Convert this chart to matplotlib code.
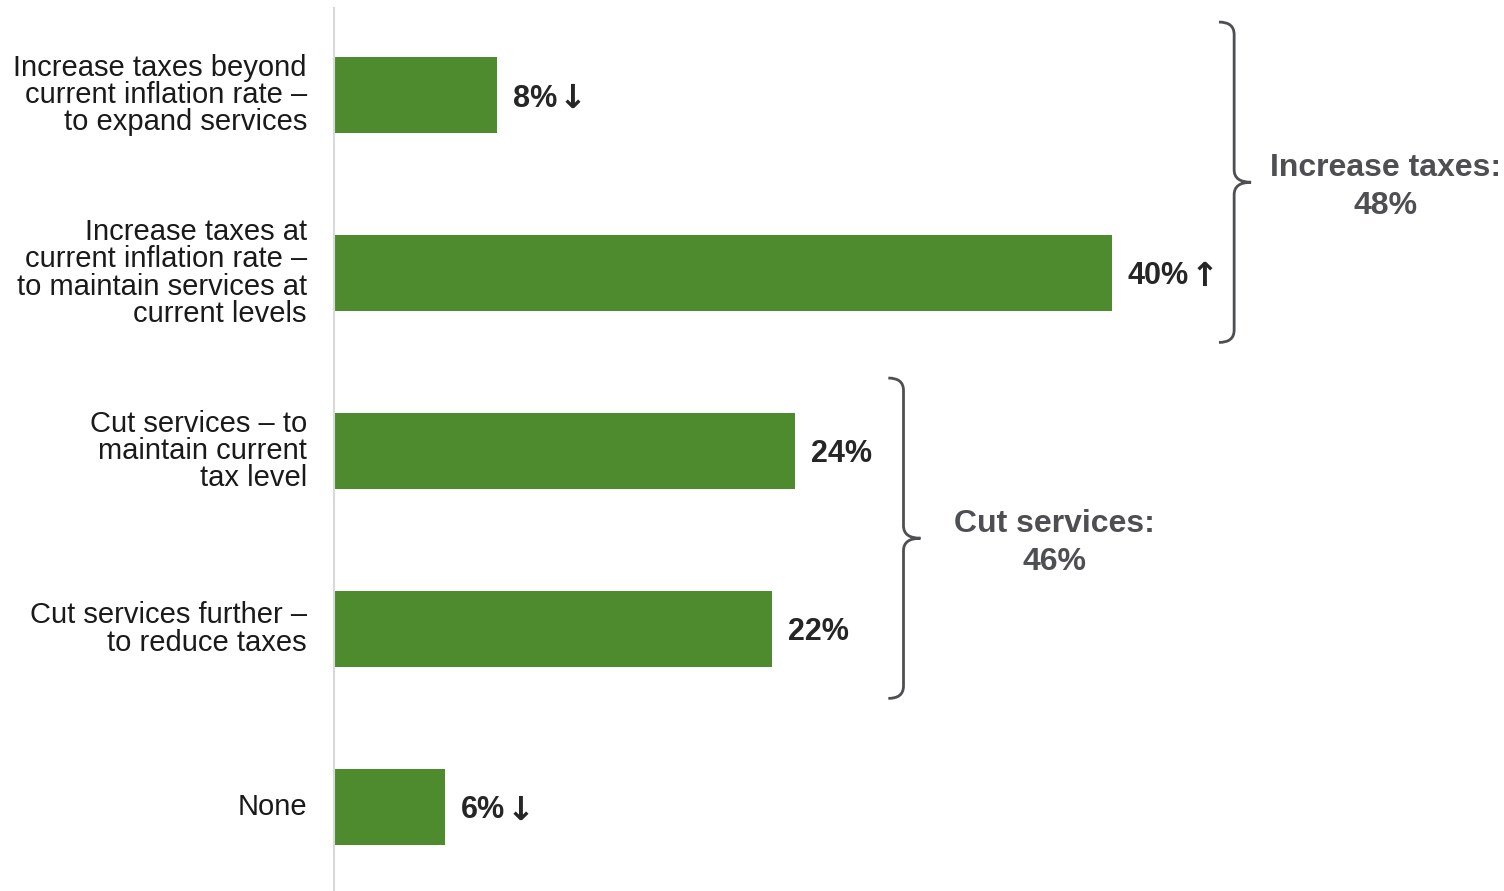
"""
Council tax preference chart: horizontal bars with group braces
"""
import matplotlib
matplotlib.use('Agg')
import matplotlib.pyplot as plt
from matplotlib.path import Path
from matplotlib.patches import PathPatch

plt.rcParams['font.family'] = ['Liberation Sans', 'DejaVu Sans']

categories = [
    'Increase taxes beyond\ncurrent inflation rate –\nto expand services',
    'Increase taxes at\ncurrent inflation rate –\nto maintain services at\ncurrent levels',
    'Cut services – to\nmaintain current\ntax level',
    'Cut services further –\nto reduce taxes',
    'None',
]
values = [8.4, 40.0, 23.7, 22.5, 5.7]
value_labels = ['8%', '40%', '24%', '22%', '6%']
arrows = ['↓', '↑', '', '', '↓']

group_names = ['Increase taxes:', 'Cut services:']
group_members = [[0, 1], [2, 3]]
group_labels = ['48%', '46%']

GREEN = '#4e8b2e'
GREY = '#4d4f53'
DARK = '#262626'

fig = plt.figure(figsize=(15.04, 8.91), dpi=100, facecolor='white')
ax = fig.add_axes([334 / 1504, 0, 1 - 334 / 1504, 1 - 8 / 891])

ypos = list(range(len(categories)))
ax.barh(ypos, values, height=0.427, color=GREEN, zorder=2)

ax.set_xlim(0, (1504 - 334) / 19.45)
ax.set_ylim(4.472, -0.489)

# eje
for s in ['top', 'right', 'bottom']:
    ax.spines[s].set_visible(False)
ax.spines['left'].set_color('#d9d9d9')
ax.spines['left'].set_linewidth(1.5)
ax.set_xticks([])
ax.set_yticks(ypos)
ax.set_yticklabels(categories, fontsize=21, color='#1a1a1a', linespacing=0.975)
ax.tick_params(axis='y', length=0, pad=19.5)
for tl in ax.get_yticklabels():
    tl.set_y(tl.get_position()[1])
    tl.set_verticalalignment('center')

# etiquetas de valor
for y, v, lab, arr in zip(ypos, values, value_labels, arrows):
    t = ax.annotate(lab, xy=(v, y), xytext=(11.5, -2.5), textcoords='offset points',
                    ha='left', va='center', fontsize=22, fontweight='bold', color=DARK)
    if arr:
        ax.annotate(arr, xy=(1, 0.5), xycoords=t, xytext=(1, 0),
                    textcoords='offset points', ha='left', va='center',
                    fontsize=24, fontweight='bold', color=DARK, family='DejaVu Sans')


def brace(ax, x0, ytop, ybot, w=1.65, stem=0.78, r=0.07):
    xs = x0 + stem
    xt = x0 + w
    ymid = (ytop + ybot) / 2
    verts = [(x0, ytop), (xs, ytop), (xs, ytop + r),
             (xs, ymid - r), (xs, ymid), (xt, ymid),
             (xs, ymid), (xs, ymid + r),
             (xs, ybot - r), (xs, ybot), (x0, ybot)]
    codes = [Path.MOVETO, Path.CURVE3, Path.CURVE3,
             Path.LINETO, Path.CURVE3, Path.CURVE3,
             Path.CURVE3, Path.CURVE3,
             Path.LINETO, Path.CURVE3, Path.CURVE3]
    ax.add_patch(PathPatch(Path(verts, codes), fill=False, edgecolor=GREY,
                           lw=2, clip_on=False, zorder=3))
    return xt, ymid


brace_offsets = [5.5, 4.8]
for name, members, lab, off in zip(group_names, group_members, group_labels, brace_offsets):
    top = min(members) - 0.41
    bot = max(members) + 0.39
    x0 = max(values[m] for m in members) + off
    xt, ymid = brace(ax, x0, top, bot)
    ax.annotate(name + '\n' + lab, xy=(xt + 6.9, ymid), xytext=(0, -3.5),
                textcoords='offset points', ha='center', va='center',
                fontsize=23, fontweight='bold', color=GREY, linespacing=1.34)

plt.savefig('out.png', dpi=100, facecolor='white')
plt.close()
